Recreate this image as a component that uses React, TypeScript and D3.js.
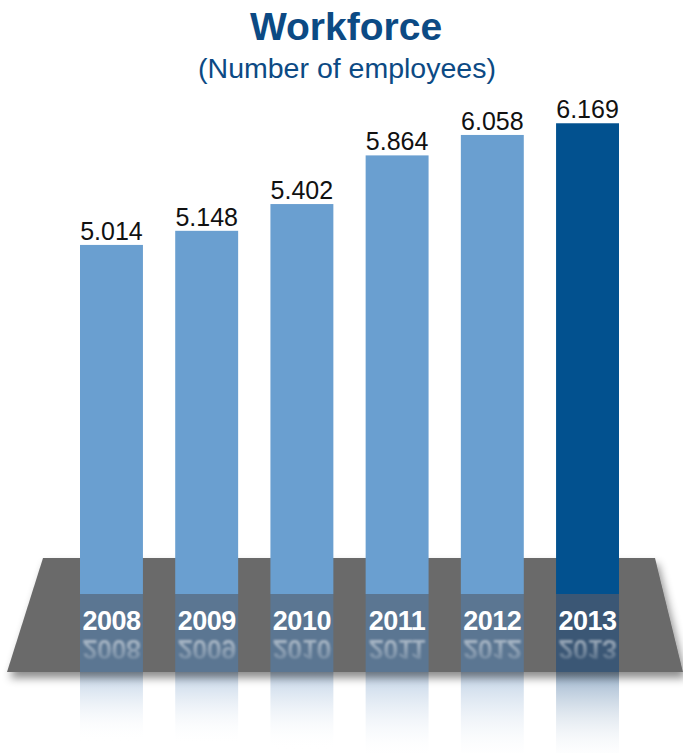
import React from "react";
import * as d3 from "d3";

const years = ["2008", "2009", "2010", "2011", "2012", "2013"];
const employees = [5014, 5148, 5402, 5864, 6058, 6169];
const valueLabels = ["5.014", "5.148", "5.402", "5.864", "6.058", "6.169"];
const highlightYear = "2013";

const W = 683;
const H = 753;
const BASE = 594;
const PLAT_TOP = 558;
const PLAT_BOT = 672;

const LIGHT = "#6a9fd0";
const DARK = "#02518f";
const LIGHT_EXT = "#5b7692";
const DARK_EXT = "#3b5775";
const TITLE_COL = "#0c4a84";
const FONT = "'Liberation Sans', Arial, Helvetica, sans-serif";

export default function App() {
  const x = d3.scaleBand<string>().domain(years).range([80, 619]).paddingInner(0.339).paddingOuter(0);
  const y = d3.scaleLinear().domain([1700, 6200]).range([BASE, 120]);
  const bw = x.bandwidth();

  const platform = d3.line()([
    [43, PLAT_TOP],
    [655, PLAT_TOP],
    [683, PLAT_BOT],
    [7, PLAT_BOT],
  ]) + "Z";

  return (
    <svg width={W} height={H} style={{ position: "absolute", left: 0, top: 0, background: "#fff" }} fontFamily={FONT}>
      <defs>
        <filter id="shadow" x="-10%" y="-20%" width="120%" height="160%">
          <feDropShadow dx="3" dy="6" stdDeviation="4" floodColor="#000" floodOpacity="0.45" />
        </filter>
        <filter id="blur" x="-10%" y="-20%" width="120%" height="140%">
          <feGaussianBlur stdDeviation="0.9" />
        </filter>
        <linearGradient id="reflLight" x1="0" y1="0" x2="0" y2="1">
          <stop offset="0" stopColor="#b9cde3" stopOpacity="0.9" />
          <stop offset="1" stopColor="#ffffff" stopOpacity="0" />
        </linearGradient>
        <linearGradient id="reflDark" x1="0" y1="0" x2="0" y2="1">
          <stop offset="0" stopColor="#8faac6" stopOpacity="0.9" />
          <stop offset="1" stopColor="#ffffff" stopOpacity="0" />
        </linearGradient>
        <linearGradient id="txtFade" x1="0" y1="0" x2="0" y2="1">
          <stop offset="0" stopColor="#fff" stopOpacity="0.55" />
          <stop offset="1" stopColor="#fff" stopOpacity="0.08" />
        </linearGradient>
        <mask id="txtMask" maskUnits="userSpaceOnUse" x="0" y="636" width={W} height="30">
          <rect x="0" y="636" width={W} height="28" fill="url(#txtFade)" />
        </mask>
      </defs>

      <text x={346} y={40} textAnchor="middle" fontSize={39} fontWeight="bold" fill={TITLE_COL}>
        Workforce
      </text>
      <text x={347} y={78} textAnchor="middle" fontSize={28.5} fill={TITLE_COL}>
        (Number of employees)
      </text>

      {/* reflections below platform */}
      {years.map((yr, i) => {
        const h = BASE - y(employees[i]);
        return (
          <rect
            key={"r" + yr}
            x={x(yr)}
            y={PLAT_BOT}
            width={bw}
            height={h * 0.2}
            fill={yr === highlightYear ? "url(#reflDark)" : "url(#reflLight)"}
          />
        );
      })}

      <path d={platform} fill="#6b6b6b" filter="url(#shadow)" />

      {years.map((yr, i) => (
        <g key={yr}>
          <rect x={x(yr)} y={BASE} width={bw} height={PLAT_BOT - BASE} fill={yr === highlightYear ? DARK_EXT : LIGHT_EXT} />
          <rect x={x(yr)} y={y(employees[i])} width={bw} height={BASE - y(employees[i])} fill={yr === highlightYear ? DARK : LIGHT} />
          <text
            x={(x(yr) as number) + bw / 2}
            y={y(employees[i]) - 5}
            textAnchor="middle"
            fontSize={25}
            fill="#111"
          >
            {valueLabels[i]}
          </text>
          <text
            x={(x(yr) as number) + bw / 2}
            y={630}
            textAnchor="middle"
            fontSize={27}
            fontWeight="bold"
            fill="#fff"
            letterSpacing={-0.5}
          >
            {yr}
          </text>
        </g>
      ))}

      <g mask="url(#txtMask)">
        <g transform={`translate(0, ${2 * 635}) scale(1,-1)`} filter="url(#blur)">
          {years.map((yr) => (
            <text
              key={"t" + yr}
              x={(x(yr) as number) + bw / 2}
              y={630}
              textAnchor="middle"
              fontSize={27}
              fontWeight="bold"
              fill="#fff"
              letterSpacing={-0.5}
            >
              {yr}
            </text>
          ))}
        </g>
      </g>
    </svg>
  );
}
